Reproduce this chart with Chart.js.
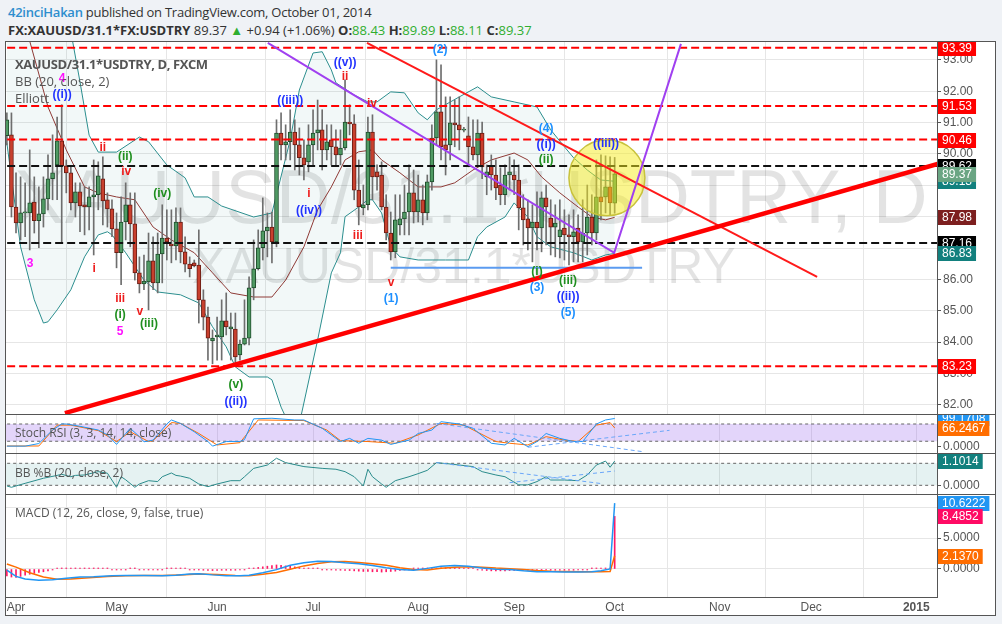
<!DOCTYPE html>
<html>
<head>
<meta charset="utf-8">
<script src="https://cdn.jsdelivr.net/npm/chart.js@4.4.1/dist/chart.umd.min.js"></script>
<style>
  html, body { margin: 0; padding: 0; }
  body { width: 1002px; height: 624px; background: #eff2f6; position: relative; overflow: hidden; font-family: 'Open Sans', sans-serif; }
  .cabecera { position: absolute; left: 8px; white-space: nowrap; color: #333; font-size: 13px; letter-spacing: -0.25px; }
  #linea1 { top: 3px; }
  #linea2 { top: 21px; letter-spacing: 0; }
  .verde { color: #2fae2f; }
  .marco { position: absolute; left: 5px; top: 41px; width: 989px; height: 573px; border: 1px solid #555; background: #fff; }
  canvas { position: absolute; left: 6px; }
  .sep { position: absolute; left: 5px; width: 990px; height: 1px; background: #555; z-index: 3; }
  .titulo { position: absolute; left: 15px; color: #555; font-size: 12px; white-space: nowrap; z-index: 2; }
</style>
</head>
<body>
<div id="linea1" class="cabecera"><span style="color:#2e8ece;font-weight:600">42inciHakan</span> published on TradingView.com, October 01, 2014</div>
<div id="linea2" class="cabecera"><b>FX:XAUUSD/31.1*FX:USDTRY</b> 89.37 <span class="verde">&#9650;</span> +0.94 (+1.06%) <b>O:</b><span class="verde">88.43</span> <b>H:</b><span class="verde">89.89</span> <b>L:</b><span class="verde">88.11</span> <b>C:</b><span class="verde">89.37</span></div>

<div class="marco"></div>
<canvas id="principal" width="989" height="372" style="top:42px"></canvas>
<canvas id="estocastico" width="989" height="39" style="top:414px"></canvas>
<canvas id="bbpct" width="989" height="41" style="top:453px"></canvas>
<canvas id="macd" width="989" height="121" style="top:494px"></canvas>

<div class="sep" style="top:414px"></div>
<div class="sep" style="top:453px"></div>
<div class="sep" style="top:494px"></div>
<div class="sep" style="top:597px;width:932px"></div>

<div class="titulo" style="top:55px;font-weight:bold;font-size:13px;letter-spacing:-0.4px">XAUUSD/31.1*USDTRY, D, FXCM</div>
<div class="titulo" style="top:72px;font-size:13px">BB (20, close, 2)</div>
<div class="titulo" style="top:89px;font-size:13px">Elliott</div>
<div class="titulo" style="top:424px">Stoch RSI (3, 3, 14, 14, close)</div>
<div class="titulo" style="top:464px">BB %B (20, close, 2)</div>
<div class="titulo" style="top:504px">MACD (12, 26, close, 9, false, true)</div>

<script>
// Eje de tiempo: índice de sesión (0 = 1 abril 2014)
const INICIO = -2;
const X_MIN = -2.19, X_MAX = 201.53;
const mesesIdx = [0, 22, 44, 65, 88, 109, 131, 154, 174, 197];
const mesesEtiquetas = ['Apr', 'May', 'Jun', 'Jul', 'Aug', 'Sep', 'Oct', 'Nov', 'Dec', '2015'];
const marcasPrecio = [82, 83, 84, 85, 86, 87, 88, 89, 90, 91, 92, 93];

// Velas diarias desde el índice -2
const apertura = [
  90.58, 90.61, 88.31, 87.80, 88.12, 88.12, 88.47, 87.87, 88.09, 88.57,
  89.21, 89.65, 90.42, 89.62, 89.40, 88.44, 88.79, 88.38, 88.31, 88.63,
  88.70, 89.21, 88.54, 88.25, 87.61, 86.85, 87.83, 88.38, 87.77, 86.21,
  85.86, 85.92, 86.59, 85.89, 86.81, 87.32, 87.13, 87.07, 87.83, 86.88,
  86.49, 86.53, 86.46, 85.35, 84.80, 84.04, 84.17, 84.17, 84.68, 84.42,
  84.42, 83.59, 83.94, 84.13, 85.73, 86.34, 87.01, 87.55, 87.67, 87.20,
  90.67, 90.29, 90.39, 90.70, 90.29, 89.88, 89.75, 90.29, 90.67, 90.77,
  90.13, 90.45, 90.23, 89.97, 90.19, 91.02, 90.96, 88.85, 88.28, 88.38,
  90.70, 89.43, 89.33, 88.31, 87.48, 86.88, 87.74, 87.93, 88.15, 88.76,
  88.15, 88.54, 88.12, 89.11, 90.51, 91.34, 90.29, 90.29, 90.99, 90.93,
  90.76, 90.58, 90.23, 89.97, 90.67, 89.27, 89.62, 89.33, 89.01, 88.70,
  89.33, 89.33, 89.17, 88.28, 87.93, 87.64, 87.83, 87.64, 88.60, 87.96,
  87.67, 87.36, 87.64, 87.42, 87.36, 87.64, 87.20, 87.48, 87.99, 87.48,
  88.63, 88.63, 88.95, 88.43
];
const maximo = [
  91.31, 91.31, 89.40, 89.27, 89.08, 90.13, 89.27, 88.95, 89.27, 89.97,
  90.61, 91.18, 91.57, 89.81, 89.59, 89.08, 89.08, 88.95, 88.95, 89.81,
  89.75, 89.91, 88.76, 88.54, 88.12, 88.63, 89.08, 88.76, 88.76, 86.72,
  86.78, 87.48, 87.36, 87.48, 88.38, 88.22, 88.22, 88.28, 88.28, 87.36,
  86.72, 86.62, 87.58, 85.67, 85.12, 84.39, 84.80, 85.35, 85.57, 84.93,
  84.93, 84.07, 85.35, 86.08, 87.26, 87.58, 88.60, 88.12, 88.15, 91.09,
  91.31, 90.93, 91.41, 91.09, 90.83, 90.45, 90.93, 91.41, 91.72, 91.41,
  90.93, 90.93, 90.77, 90.77, 92.36, 91.57, 91.25, 89.81, 89.01, 91.18,
  91.25, 89.65, 89.75, 88.70, 88.15, 88.70, 88.70, 89.01, 89.65, 89.49,
  89.33, 89.01, 89.33, 90.93, 93.00, 92.84, 91.82, 91.82, 91.72, 91.82,
  90.85, 91.18, 91.09, 91.09, 91.02, 89.65, 89.97, 89.81, 89.56, 89.65,
  89.91, 89.81, 89.65, 88.70, 88.54, 88.38, 88.79, 88.79, 89.01, 88.54,
  88.38, 88.54, 88.22, 88.06, 88.22, 88.06, 88.54, 89.01, 88.70, 89.81,
  89.97, 89.94, 89.91, 89.89
];
const minimo = [
  90.29, 87.99, 87.48, 87.26, 87.36, 86.94, 87.48, 87.01, 87.67, 88.22,
  88.54, 88.54, 87.16, 88.76, 88.22, 87.99, 87.52, 87.42, 87.58, 86.78,
  88.22, 87.74, 87.67, 87.36, 86.37, 85.83, 87.26, 87.04, 85.98, 85.57,
  85.67, 85.03, 85.67, 85.57, 85.89, 86.62, 86.53, 86.62, 86.53, 86.24,
  86.08, 86.40, 84.61, 84.39, 83.43, 83.31, 83.43, 83.43, 84.23, 83.43,
  83.27, 83.43, 83.91, 83.91, 85.35, 86.30, 86.62, 86.72, 86.53, 87.04,
  89.81, 89.81, 89.81, 89.49, 89.33, 89.17, 89.43, 89.65, 90.13, 89.49,
  89.81, 89.65, 89.65, 89.65, 90.13, 90.61, 88.54, 87.74, 88.06, 88.22,
  88.54, 88.85, 88.22, 87.26, 86.62, 86.69, 87.42, 87.42, 87.42, 87.80,
  87.83, 87.74, 87.90, 88.85, 90.29, 89.81, 89.33, 89.81, 90.23, 90.13,
  90.70, 89.59, 89.81, 89.59, 89.21, 88.70, 88.85, 88.54, 88.38, 88.38,
  88.85, 88.70, 87.58, 87.10, 86.94, 86.56, 86.94, 86.88, 87.10, 86.78,
  86.72, 86.69, 86.62, 86.46, 86.56, 86.56, 86.56, 86.78, 87.10, 87.26,
  87.90, 88.12, 88.06, 88.11
];
const cierre = [
  91.09, 88.31, 87.80, 88.12, 88.15, 88.44, 87.87, 88.09, 88.57, 89.21,
  89.40, 90.42, 89.62, 89.40, 88.44, 88.79, 88.34, 88.31, 88.63, 88.70,
  89.30, 88.50, 88.25, 87.61, 86.85, 87.83, 88.38, 87.77, 86.21, 85.86,
  85.95, 86.59, 85.89, 86.81, 87.32, 87.20, 87.07, 87.83, 86.88, 86.49,
  86.34, 86.43, 85.35, 84.80, 84.13, 84.13, 84.23, 84.68, 84.49, 84.49,
  83.53, 83.94, 84.13, 85.73, 86.34, 87.01, 87.55, 87.67, 87.20, 90.67,
  90.29, 90.39, 90.70, 90.29, 89.88, 89.65, 90.29, 90.67, 90.77, 90.13,
  90.39, 90.23, 89.97, 90.19, 91.02, 90.96, 88.85, 88.31, 88.38, 90.70,
  89.27, 89.27, 88.31, 87.48, 86.88, 87.90, 87.93, 88.15, 88.76, 88.15,
  88.54, 88.12, 89.11, 90.51, 91.34, 90.23, 90.13, 90.99, 90.93, 90.77,
  90.77, 90.23, 89.97, 90.67, 89.59, 89.43, 89.33, 88.92, 88.70, 89.33,
  89.43, 89.17, 88.28, 87.90, 87.64, 87.83, 87.64, 88.60, 88.31, 87.67,
  87.80, 87.58, 87.42, 87.36, 87.52, 87.20, 87.48, 87.99, 87.48, 88.63,
  88.47, 88.95, 88.44, 89.37
];

// Bandas de Bollinger [índice, valor]
const bbSuperior = [[-2, 100.5], [3, 101], [8, 97.4], [12, 93.9], [14, 92.3], [16, 90.6], [18, 90.06], [22, 90.06],
  [27, 90.54], [29, 90.39], [33, 89.65], [37, 89.24], [39, 88.63], [42, 88.63], [45, 88.34], [52, 87.99], [56, 88.12],
  [60, 90.45], [62, 92.04], [65, 93.22], [67, 93.26], [69, 92.68], [70, 92.27], [74, 91.88], [77, 91.66], [79, 91.66],
  [82, 91.98], [85, 91.95], [88, 91.31], [90, 91.09], [92, 91.41], [97, 91.82], [101, 92.14], [104, 91.82], [109, 91.66],
  [114, 91.50], [117, 90.77], [120, 90.23], [122, 89.88], [125, 89.49], [127, 89.27], [128, 89.17], [131, 89.13]];
const bbInferior = [[-2, 90.35], [1, 87.04], [4, 85.35], [6, 84.61], [7, 84.65], [9, 85.03], [12, 85.67], [15, 86.72],
  [18, 87.42], [20, 87.52], [21, 87.42], [24, 86.85], [28, 85.98], [31, 85.60], [36, 85.51], [40, 85.25], [43, 84.49],
  [46, 83.85], [48, 83.21], [51, 82.89], [55, 82.89], [56, 82.80], [58, 81.93], [60, 81.3], [62, 81.4], [66, 84.07],
  [69, 86.21], [71, 86.85], [72, 88.0], [75, 88.31], [77, 88.54], [78, 88.54], [80, 88.12], [82, 87.04], [84, 86.72],
  [88, 86.62], [94, 86.62], [99, 86.62], [101, 87.36], [103, 87.67], [107, 87.99], [109, 88.44], [112, 87.99],
  [114, 87.36], [117, 87.04], [122, 86.85], [126, 86.62], [129, 86.78], [131, 86.83]];
const bbMedia = [[-2, 95.6], [0, 94.9], [3, 93.6], [7, 91.5], [11, 90.13], [15, 88.95], [18, 88.76], [22, 88.63],
  [26, 88.54], [30, 87.67], [34, 87.26], [39, 86.85], [43, 86.21], [47, 85.57], [52, 85.44], [56, 85.44], [59, 85.98],
  [63, 87.04], [66, 88.22], [69, 88.95], [72, 89.81], [75, 90.07], [78, 90.13], [80, 89.81], [84, 89.40], [88, 88.95],
  [93, 88.95], [96, 89.08], [100, 89.49], [104, 89.81], [109, 90.03], [112, 89.81], [115, 89.27], [119, 88.76],
  [123, 88.31], [126, 87.99], [129, 87.90], [131, 87.98]];

// Niveles horizontales y dibujos
const nivelesRojos = [93.39, 91.53, 90.46, 83.23];
const nivelesNegros = [89.62, 87.16];
const lineaMorada = [[55.1, 93.54], [130.9, 86.85], [145.5, 93.51]];
const lineaRojaFina = [[76.8, 93.54], [175.3, 86.08]];
const lineaRojaGruesa = [[10.7, 81.74], [205, 89.82]];
const lineaAzul = [[82, 86.37], [137, 86.37]];
const circulo = { x: 129.3, y: 89.24, r: 38 };

// Etiquetas de Elliott [índice, precio, texto, color]
const AZUL = '#2233ff', CELESTE = '#1e90ff', ROJO = '#ee1c1c', VERDE = '#1f8f1f', MAGENTA = '#ff10ff';
const ondas = [
  [10.1, 92.39, '4', MAGENTA], [10.1, 91.88, '((i))', AZUL], [19.0, 90.19, 'ii', ROJO], [23.9, 89.91, '(ii)', VERDE],
  [24.1, 89.43, 'iv', ROJO], [32.0, 88.73, '(iv)', VERDE], [3.1, 86.49, '3', MAGENTA], [17.1, 86.34, 'i', ROJO],
  [22.8, 85.38, 'iii', ROJO], [22.8, 84.87, '(i)', VERDE], [27.1, 84.96, 'v', ROJO], [29.1, 84.58, '(iii)', VERDE],
  [22.8, 84.33, '5', MAGENTA], [48.1, 82.64, '(v)', VERDE], [48.1, 82.09, '((ii))', AZUL],
  [72.0, 92.90, '((v))', AZUL], [72.0, 92.46, 'ii', ROJO], [60.0, 91.69, '((iii))', AZUL], [77.9, 91.60, 'iv', ROJO],
  [64.1, 88.73, 'i', ROJO], [64.1, 88.18, '((iv))', AZUL], [74.8, 87.39, 'iii', ROJO], [82.1, 85.89, 'v', ROJO],
  [82.1, 85.38, '(1)', CELESTE], [92.8, 93.32, '(2)', CELESTE], [116.0, 90.80, '(4)', CELESTE],
  [116.0, 90.29, '((i))', AZUL], [116.0, 89.81, '(ii)', VERDE], [129.1, 90.32, '((iii))', AZUL],
  [114.0, 86.24, '(i)', VERDE], [114.0, 85.73, '(3)', CELESTE], [120.8, 85.95, '(iii)', VERDE],
  [120.8, 85.44, '((ii))', AZUL], [120.8, 84.93, '(5)', CELESTE]
];

// Stoch RSI [índice, valor]
const stochK = [[-2, 3], [2, 3], [5, 12], [8, 59], [10, 80], [11, 80], [14, 72], [18, 59], [20, 42], [22, 9], [24, 47],
  [25, 65], [27, 36], [28, 18], [30, 24], [33, 80], [34, 94], [36, 82], [39, 53], [42, 19], [43, 3], [46, 19], [49, 19],
  [50, 26], [52, 98], [56, 100], [61, 94], [63, 94], [67, 65], [71, 19], [73, 30], [75, 13], [77, 30], [80, 24], [82, 9],
  [86, 24], [88, 47], [91, 59], [93, 88], [97, 80], [100, 65], [104, 13], [107, 7], [109, 30], [112, 1], [114, 19],
  [116, 47], [119, 30], [122, 19], [124, 19], [127, 80], [129, 94], [131, 99.1708]];
const stochD = [[-2, 3.5], [5, 3.5], [9, 76], [12, 76], [18, 57], [22, 19], [25, 53], [29, 19], [30, 22], [34, 85],
  [36, 82], [40, 47], [44, 7], [49, 15], [53, 94], [63, 92], [68, 59], [71, 22], [77, 19], [83, 13], [88, 42], [93, 82],
  [98, 76], [105, 19], [108, 13], [112, 7], [116, 36], [120, 24], [123, 19], [127, 76], [130, 85], [131, 66.2467]];
const stochTendencias = [[[92, 82], [137, -16]], [[112, -1], [143, 58]]];

// BB %B
const bbPct = [[-2, -0.03], [-1, -0.09], [2, 0.09], [6, 0.32], [9, 0.45], [10, 0.5], [12, 0.39], [13, 0.45], [15, 0.47],
  [18, 0.62], [20, 0.55], [22, -0.09], [23, 0.39], [24, 0.25], [26, -0.09], [27, 0.06], [29, 0.21], [31, 0.17],
  [32, 0.39], [34, 0.56], [35, 0.45], [36, 0.42], [38, 0.32], [40, 0.06], [42, -0.06], [44, 0.06], [47, 0.21],
  [49, 0.21], [50, 0.39], [52, 0.77], [55, 0.92], [57, 1.23], [59, 1.03], [63, 0.85], [67, 0.77], [70, 0.73],
  [72, 0.62], [74, 0.39], [76, -0.03], [77, 0.73], [78, 0.39], [80, 0.06], [81, -0.09], [83, 0.21], [86, 0.39],
  [88, 0.53], [90, 0.68], [92, 1.03], [95, 0.97], [97, 0.92], [100, 0.85], [102, 0.62], [105, 0.47], [107, 0.39],
  [110, 0.02], [112, 0.02], [114, 0.17], [116, 0.39], [117, 0.24], [120, 0.24], [123, 0.21], [125, 0.47],
  [127, 0.92], [129, 1.1], [130, 0.82], [131, 1.1014]];
const bbPctTendencias = [[[92, 1.03], [128, 0.08]], [[108, 0.12], [131, 0.65]]];

// MACD
const macdLinea = [[-2, -0.2], [0, -1.2], [2, -1.6], [5, -1.8], [8, -1.75], [11, -1.5], [14, -1.3], [17, -1.25],
  [21, -1.1], [24, -1.05], [28, -1.05], [32, -1.1], [35, -1.0], [38, -0.8], [40, -0.75], [43, -0.95], [46, -1.1],
  [49, -1.1], [51, -1.0], [54, -0.6], [57, -0.1], [60, 0.6], [63, 1.0], [66, 1.25], [69, 1.2], [72, 1.0], [75, 0.85],
  [78, 0.55], [81, 0.2], [84, -0.1], [87, -0.2], [90, 0.1], [93, 0.45], [96, 0.55], [99, 0.45], [102, 0.15],
  [105, -0.05], [108, -0.1], [111, -0.3], [114, -0.45], [117, -0.45], [120, -0.5], [123, -0.5], [126, -0.45],
  [128, -0.3], [130, 0.0], [131, 10.6222]];
const macdSenal = [[-2, 0.8], [0, 0.3], [3, -0.6], [6, -1.3], [9, -1.65], [12, -1.6], [16, -1.4], [20, -1.2],
  [24, -1.1], [28, -1.05], [32, -1.05], [36, -0.95], [40, -0.8], [44, -0.9], [48, -1.05], [51, -1.1], [54, -0.85],
  [57, -0.55], [60, -0.05], [63, 0.5], [66, 0.9], [69, 1.15], [72, 1.2], [75, 1.05], [78, 0.85], [81, 0.6], [84, 0.2],
  [87, -0.1], [90, -0.15], [93, 0.1], [96, 0.3], [99, 0.35], [102, 0.3], [105, 0.15], [108, 0.05], [111, -0.1],
  [114, -0.25], [117, -0.35], [120, -0.4], [124, -0.45], [128, -0.45], [130, -0.4], [131, 2.137]];
const macdHist = [
  -1.1, -1.3,
  -1.35, -1.2, -1.0, -0.85, -0.7, -0.55, -0.45, -0.3, -0.15, 0.05,
  0.1, 0.1, 0.05, 0.05, 0.1, 0.15, 0.1, 0.05, 0.05, 0.1,
  0.05, -0.05, -0.1, -0.1, -0.05, 0.05, 0.05, -0.1, -0.15, -0.15,
  -0.1, -0.1, -0.05, 0.05, 0.05, 0.1, 0.05, 0.05, -0.05, -0.1,
  -0.15, -0.2, -0.25, -0.25, -0.25, -0.2, -0.2, -0.2, -0.2, -0.15,
  -0.1, 0.05, 0.15, 0.25, 0.35, 0.45, 0.55, 0.65, 0.6, 0.5,
  0.45, 0.35, 0.25, 0.15, 0.1, 0.05, 0.05, -0.05, -0.1, -0.15,
  -0.2, -0.2, -0.25, -0.25, -0.3, -0.35, -0.4, -0.4, -0.45, -0.45,
  -0.5, -0.45, -0.4, -0.35, -0.25, -0.15, -0.05, 0.05, 0.05, 0.1,
  0.1, 0.15, 0.15, 0.2, 0.2, 0.25, 0.2, 0.2, 0.15, 0.1,
  0.05, -0.1, -0.2, -0.25, -0.3, -0.3, -0.3, -0.3, -0.25, -0.25,
  -0.2, -0.2, -0.2, -0.2, -0.2, -0.15, -0.15, -0.2, -0.2, -0.2,
  -0.2, -0.2, -0.2, -0.15, -0.1, -0.05, 0.05, 0.1, 0.1, 0.1,
  0.15, 8.4852
];

const FUENTE = '"Liberation Sans", Arial, sans-serif';
const pares = arr => arr.map(([x, y]) => ({ x, y }));
const ultimo = arr => arr[arr.length - 1][1];
const velas = apertura.map((o, k) => ({ x: k + INICIO, o, h: maximo[k], l: minimo[k], c: cierre[k] }));

function escalaX(conEtiquetas) {
  return {
    type: 'linear', min: X_MIN, max: X_MAX, offset: false,
    afterBuildTicks: s => { s.ticks = mesesIdx.map(v => ({ value: v })); },
    afterFit: s => { s.height = conEtiquetas ? 18 : 0; s.paddingLeft = 0; s.paddingRight = 0; },
    ticks: {
      display: conEtiquetas, autoSkip: false, maxRotation: 0, padding: 3, color: '#555',
      font: c => ({ family: FUENTE, size: 12, weight: mesesEtiquetas[c.index] === '2015' ? 'bold' : 'normal' }),
      callback: (v, i) => mesesEtiquetas[i]
    },
    grid: { color: '#e6e6e6', drawTicks: false },
    border: { display: false }
  };
}

function escalaY(min, max, marcas, decimales, conRejilla) {
  return {
    position: 'right', min, max,
    afterBuildTicks: s => { s.ticks = marcas.map(v => ({ value: v })); },
    afterFit: s => { s.width = 58; s.paddingTop = 0; s.paddingBottom = 0; },
    ticks: { color: '#555', padding: 2, font: { family: FUENTE, size: 12 }, callback: v => v.toFixed(decimales) },
    grid: { color: conRejilla ? '#e6e6e6' : 'rgba(0,0,0,0)', tickColor: '#555', tickLength: 4 },
    border: { display: true, color: '#555' }
  };
}

function opciones(escY, conEtiquetas) {
  return {
    responsive: false, animation: false, devicePixelRatio: 1, events: [],
    layout: { padding: 0, autoPadding: false },
    elements: { point: { radius: 0 }, line: { tension: 0 } },
    plugins: { legend: { display: false }, tooltip: { enabled: false } },
    scales: { x: escalaX(conEtiquetas), y: escY }
  };
}

function linea(datos, color, ancho, extra) {
  return Object.assign({ type: 'line', data: pares(datos), borderColor: color, borderWidth: ancho, fill: false, clip: 0 }, extra || {});
}

function horizontal(valor, color, ancho, guiones, orden) {
  return { type: 'line', data: [{ x: X_MIN - 5, y: valor }, { x: X_MAX + 5, y: valor }], borderColor: color,
    borderWidth: ancho, borderDash: guiones, fill: false, clip: 0, order: orden };
}

// Etiquetas de precio en el eje derecho
function pluginEtiquetas(id, lista, decimales) {
  return {
    id,
    afterDraw(chart) {
      const { ctx, chartArea, scales: { y } } = chart;
      ctx.save();
      ctx.font = '12px ' + FUENTE;
      ctx.textBaseline = 'middle';
      lista.forEach(([v, fondo]) => {
        const py = Math.round(y.getPixelForValue(v));
        const txt = v.toFixed(decimales);
        const w = ctx.measureText(txt).width + 8;
        ctx.fillStyle = fondo;
        ctx.fillRect(chartArea.right + 1, py - 7, w, 15);
        ctx.fillStyle = '#fff';
        ctx.fillText(txt, chartArea.right + 5, py + 1);
      });
      ctx.restore();
    }
  };
}

const pluginMarcaAgua = {
  id: 'marcaAgua',
  beforeDatasetsDraw(chart) {
    const { ctx, chartArea } = chart;
    ctx.save();
    ctx.beginPath();
    ctx.rect(chartArea.left, chartArea.top, chartArea.right - chartArea.left, chartArea.bottom - chartArea.top);
    ctx.clip();
    ctx.fillStyle = 'rgba(0,0,0,0.11)';
    ctx.font = '76px ' + FUENTE;
    ctx.fillText('XAUUSD/31.1*USDTRY, D', 8, 181);
    ctx.font = '50px ' + FUENTE;
    ctx.fillText('XAUUSD/31.1*USDTRY', 186, 241);
    ctx.restore();
  }
};

const pluginOndas = {
  id: 'ondas',
  afterDatasetsDraw(chart) {
    const { ctx, scales: { x, y } } = chart;
    ctx.save();
    ctx.font = 'bold 12px ' + FUENTE;
    ctx.textAlign = 'center';
    ctx.textBaseline = 'middle';
    ondas.forEach(([i, p, t, col]) => {
      ctx.fillStyle = col;
      ctx.fillText(t, x.getPixelForValue(i), y.getPixelForValue(p));
    });
    ctx.restore();
  }
};

// Gráfico principal
new Chart(document.getElementById('principal'), {
  type: 'line',
  data: {
    datasets: [
      linea(bbSuperior, '#2b8e8e', 1, { order: 30, clip: undefined }),
      linea(bbInferior, '#2b8e8e', 1, { order: 30, fill: '-1', backgroundColor: 'rgba(40,140,140,0.06)', clip: undefined }),
      linea(bbMedia, '#8e3a36', 1, { order: 29, clip: undefined }),
      { type: 'bar', data: velas.map(v => ({ x: v.x, y: [v.l, v.h] })), backgroundColor: '#6e6e6e',
        barThickness: 1, grouped: false, order: 20 },
      { type: 'bar', data: velas.map(v => ({ x: v.x, y: [v.o, v.c] })),
        backgroundColor: velas.map(v => v.c >= v.o ? '#4f9a63' : '#c8402e'),
        borderColor: velas.map(v => v.c >= v.o ? '#1f4d2c' : '#6a1d14'),
        borderWidth: 1, borderSkipped: false, barThickness: 4, minBarLength: 1, grouped: false, order: 19 },
      ...nivelesRojos.map(v => horizontal(v, '#ff0000', 2, [8, 4], 10)),
      ...nivelesNegros.map(v => horizontal(v, '#111', 2, [8, 4], 10)),
      { type: 'bubble', data: [circulo], backgroundColor: 'rgba(245,235,30,0.5)', borderColor: '#c8c23c',
        borderWidth: 1.5, order: 8 },
      linea(lineaAzul, '#5b9bf0', 2, { order: 6 }),
      linea(lineaRojaGruesa, '#ff0000', 4.5, { order: 5 }),
      linea(lineaRojaFina, '#ff1a1a', 2, { order: 5 }),
      linea(lineaMorada, '#a040f0', 2, { order: 4 })
    ]
  },
  options: opciones(escalaY(81.71, 93.57, marcasPrecio, 2, true), false),
  plugins: [pluginMarcaAgua, pluginOndas, pluginEtiquetas('etqPrincipal', [
    [nivelesRojos[0], '#ff0000'], [nivelesRojos[1], '#ff0000'], [nivelesRojos[2], '#ff0000'], [nivelesRojos[3], '#ff0000'],
    [nivelesNegros[0], '#000'], [ultimo(bbSuperior), '#12807e'], [cierre[cierre.length - 1], '#6aa583'],
    [ultimo(bbMedia), '#7d1f1f'], [nivelesNegros[1], '#000'], [ultimo(bbInferior), '#12807e']
  ], 2)]
});

// Stoch RSI
new Chart(document.getElementById('estocastico'), {
  type: 'line',
  data: {
    datasets: [
      horizontal(80, '#666', 1, [3, 3], 30),
      Object.assign(horizontal(20, '#666', 1, [3, 3], 30), { fill: '-1', backgroundColor: 'rgba(140,80,235,0.24)' }),
      linea(stochD, '#ff6d00', 1, { order: 12 }),
      linea(stochK, '#2196f3', 1, { order: 11 }),
      ...stochTendencias.map(t => linea(t, '#6aa6f8', 1, { borderDash: [4, 3], order: 5 }))
    ]
  },
  options: opciones(escalaY(-20.9, 114.8, [0], 4, false), false),
  plugins: [pluginEtiquetas('etqStoch', [[ultimo(stochK), '#2196f3'], [ultimo(stochD), '#ff6d00']], 4)]
});

// BB %B
new Chart(document.getElementById('bbpct'), {
  type: 'line',
  data: {
    datasets: [
      horizontal(1, '#666', 1, [3, 3], 30),
      Object.assign(horizontal(0, '#666', 1, [3, 3], 30), { fill: '-1', backgroundColor: 'rgba(0,128,128,0.1)' }),
      linea(bbPct, '#2a8b8b', 1, { order: 11 }),
      ...bbPctTendencias.map(t => linea(t, '#6aa6f8', 1, { borderDash: [4, 3], order: 5 }))
    ]
  },
  options: opciones(escalaY(-0.395, 1.468, [0], 4, false), false),
  plugins: [pluginEtiquetas('etqPct', [[ultimo(bbPct), '#12807e']], 4)]
});

// MACD
new Chart(document.getElementById('macd'), {
  type: 'line',
  data: {
    datasets: [
      { type: 'bar', data: macdHist.map((v, k) => ({ x: k + INICIO, y: v })), backgroundColor: '#ff1a66',
        barThickness: 1, minBarLength: 1, grouped: false, order: 20 },
      linea(macdSenal, '#ff6d00', 1.5, { order: 11 }),
      linea(macdLinea, '#2196f3', 1.5, { order: 10 })
    ]
  },
  options: opciones(escalaY(-4.52, 12.1, [0, 5, 10], 4, true), true),
  plugins: [pluginEtiquetas('etqMacd', [[ultimo(macdLinea), '#2196f3'], [macdHist[macdHist.length - 1], '#ff0a64'],
    [ultimo(macdSenal), '#ff6d00']], 4)]
});
</script>
</body>
</html>
